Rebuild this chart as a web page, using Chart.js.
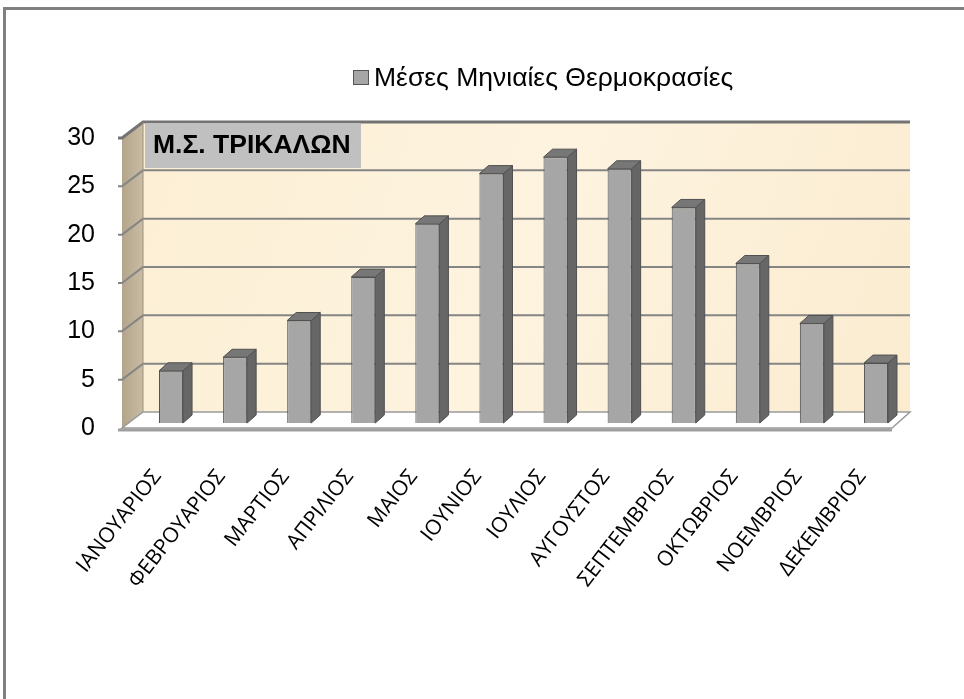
<!DOCTYPE html>
<html>
<head>
<meta charset="utf-8">
<script src="https://cdn.jsdelivr.net/npm/chart.js@4.4.0/dist/chart.umd.min.js"></script>
<style>
    body { margin: 0; background: #fff; }
    #wrap { position: relative; width: 964px; height: 699px; }
</style>
</head>
<body>
<div id="wrap"><canvas id="myChart" width="964" height="699"></canvas></div>
<script>
// data
var months = ['ΙΑΝΟΥΑΡΙΟΣ', 'ΦΕΒΡΟΥΑΡΙΟΣ', 'ΜΑΡΤΙΟΣ', 'ΑΠΡΙΛΙΟΣ', 'ΜΑΙΟΣ', 'ΙΟΥΝΙΟΣ',
    'ΙΟΥΛΙΟΣ', 'ΑΥΓΟΥΣΤΟΣ', 'ΣΕΠΤΕΜΒΡΙΟΣ', 'ΟΚΤΩΒΡΙΟΣ', 'ΝΟΕΜΒΡΙΟΣ', 'ΔΕΚΕΜΒΡΙΟΣ'];
var temps = [5.4, 6.8, 10.6, 15.1, 20.6, 25.8, 27.5, 26.3, 22.3, 16.5, 10.3, 6.2];
var yTicks = [0, 5, 10, 15, 20, 25, 30];
var seriesName = 'Μέσες Μηνιαίες Θερμοκρασίες';
var stationName = 'Μ.Σ. ΤΡΙΚΑΛΩΝ';

// fake 3d box: walls, floor and bar sides
var box3d = {
    id: 'box3d',
    beforeDatasetsDraw: function (chart) {
        var ctx = chart.ctx, a = chart.chartArea, y = chart.scales.y;
        var fx = a.left - 17, bx = a.left + 4;
        var fR = a.right - 16, bR = a.right + 2;
        var fy = function (v) { return y.getPixelForValue(v) + 5; };
        var by = function (v) { return y.getPixelForValue(v) - 11; };
        var top = yTicks[yTicks.length - 1];

        ctx.save();
        // back wall
        var g = ctx.createLinearGradient(bx, by(top), bR, by(0));
        g.addColorStop(0, '#fcefd4');
        g.addColorStop(0.5, '#fdf3df');
        g.addColorStop(1, '#fbecd0');
        ctx.fillStyle = g;
        ctx.fillRect(bx, by(top), bR - bx, by(0) - by(top));

        // side wall
        var sg = ctx.createLinearGradient(fx, 0, bx, 0);
        sg.addColorStop(0, '#b3a58c');
        sg.addColorStop(1, '#c8bca3');
        ctx.fillStyle = sg;
        ctx.beginPath();
        ctx.moveTo(fx, fy(0));
        ctx.lineTo(fx, fy(top));
        ctx.lineTo(bx, by(top));
        ctx.lineTo(bx, by(0));
        ctx.closePath();
        ctx.fill();

        // gridlines
        yTicks.forEach(function (v) {
            if (v === 0) return;
            ctx.strokeStyle = v === top ? '#737373' : '#858585';
            ctx.lineWidth = v === top ? 3 : 2;
            ctx.beginPath();
            ctx.moveTo(fx - 4, fy(v));
            ctx.lineTo(fx, fy(v));
            ctx.lineTo(bx, by(v));
            ctx.lineTo(bR, by(v));
            ctx.stroke();
        });
        ctx.strokeStyle = '#9a9080';
        ctx.lineWidth = 1;
        ctx.beginPath();
        ctx.moveTo(bx, by(top));
        ctx.lineTo(bx, by(0));
        ctx.stroke();

        // floor
        ctx.fillStyle = '#ffffff';
        ctx.strokeStyle = '#9a9a9a';
        ctx.lineWidth = 1.5;
        ctx.beginPath();
        ctx.moveTo(fx, fy(0));
        ctx.lineTo(fR, fy(0));
        ctx.lineTo(bR, by(0));
        ctx.lineTo(bx, by(0));
        ctx.closePath();
        ctx.fill();
        ctx.stroke();
        ctx.strokeStyle = '#a0a0a0';
        ctx.lineWidth = 3;
        ctx.beginPath();
        ctx.moveTo(fx - 4, fy(0) + 2);
        ctx.lineTo(fR, fy(0) + 2);
        ctx.stroke();
        ctx.restore();
    },
    afterDatasetsDraw: function (chart) {
        var ctx = chart.ctx;
        var dx = 9, dy = -8;
        ctx.save();
        ctx.lineWidth = 1;
        ctx.strokeStyle = '#505050';
        chart.getDatasetMeta(0).data.forEach(function (bar) {
            var p = bar.getProps(['x', 'y', 'width', 'base'], true);
            var l = p.x - p.width / 2, r = p.x + p.width / 2;
            // side
            ctx.fillStyle = '#666666';
            ctx.beginPath();
            ctx.moveTo(r, p.y);
            ctx.lineTo(r + dx, p.y + dy);
            ctx.lineTo(r + dx, p.base + dy);
            ctx.lineTo(r, p.base);
            ctx.closePath();
            ctx.fill();
            ctx.stroke();
            // top
            ctx.fillStyle = '#777777';
            ctx.beginPath();
            ctx.moveTo(l, p.y);
            ctx.lineTo(l + dx, p.y + dy);
            ctx.lineTo(r + dx, p.y + dy);
            ctx.lineTo(r, p.y);
            ctx.closePath();
            ctx.fill();
            ctx.stroke();
        });
        ctx.restore();
    },
    afterDraw: function (chart) {
        var ctx = chart.ctx, a = chart.chartArea;
        ctx.save();
        // station label box
        ctx.fillStyle = '#c0c0c0';
        ctx.fillRect(a.left + 6, a.top - 10, 216, 45);
        ctx.fillStyle = '#000';
        ctx.font = 'bold 26.5px "Liberation Sans", Arial, sans-serif';
        ctx.textBaseline = 'middle';
        ctx.textAlign = 'left';
        ctx.fillText(stationName, a.left + 14, a.top + 13);

        // legend
        ctx.fillStyle = '#a6a6a6';
        ctx.strokeStyle = '#555';
        ctx.lineWidth = 1;
        ctx.fillRect(353.5, 70.5, 15, 14);
        ctx.strokeRect(353.5, 70.5, 15, 14);
        ctx.fillStyle = '#000';
        ctx.font = '26.5px "Liberation Sans", Arial, sans-serif';
        ctx.fillText(seriesName, 374, 79);

        // outer frame
        ctx.fillStyle = '#808080';
        ctx.fillRect(3, 7, 961, 3);
        ctx.fillRect(3, 7, 3, 692);
        ctx.restore();
    }
};

var config = {
    type: 'bar',
    data: {
        labels: months,
        datasets: [{
            label: seriesName,
            data: temps,
            backgroundColor: '#a6a6a6',
            borderColor: '#505050',
            borderWidth: 1,
            barPercentage: 0.375,
            categoryPercentage: 1
        }]
    },
    options: {
        responsive: false,
        animation: false,
        layout: { padding: { top: 133, right: 56, left: 0, bottom: 0 } },
        plugins: {
            legend: { display: false },
            tooltip: { enabled: false }
        },
        scales: {
            x: {
                grid: { display: false, drawTicks: false },
                border: { display: false },
                ticks: {
                    autoSkip: false,
                    minRotation: 52,
                    maxRotation: 52,
                    labelOffset: -14,
                    padding: 42,
                    color: '#000',
                    font: { family: '"Open Sans", sans-serif', size: 21 }
                },
                afterFit: function (scale) { scale.height = 276; }
            },
            y: {
                min: 0,
                max: 30,
                grid: { display: false, drawTicks: false },
                border: { display: false },
                ticks: {
                    stepSize: 5,
                    labelOffset: 5,
                    padding: 44,
                    color: '#000',
                    font: { family: '"Liberation Sans", Arial, sans-serif', size: 25 }
                },
                afterFit: function (scale) { scale.width = 139; }
            }
        }
    },
    plugins: [box3d]
};

var ctx = document.getElementById('myChart').getContext('2d');
var myChart = new Chart(ctx, config);
</script>
</body>
</html>
